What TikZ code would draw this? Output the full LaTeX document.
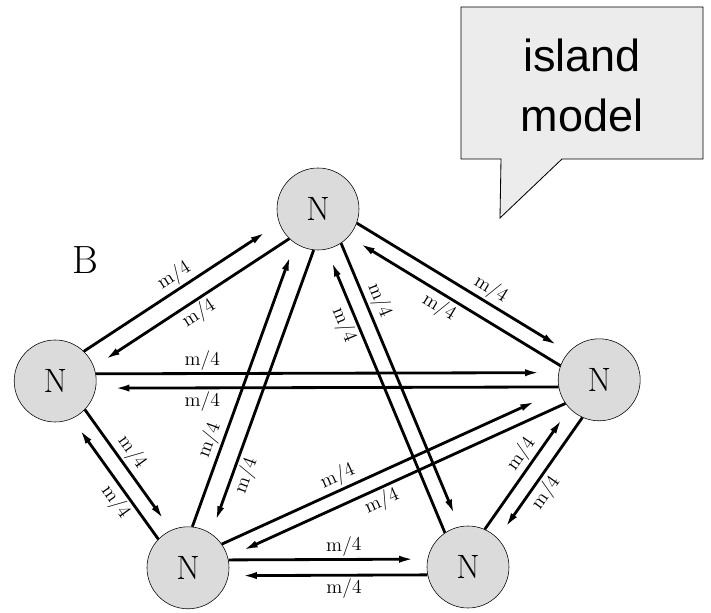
\documentclass[tikz,border=0pt]{standalone}
\usepackage{fontspec}
\newfontfamily\bubblefont{Liberation Sans}
\usetikzlibrary{arrows.meta}
\begin{document}
\begin{tikzpicture}[
    island/.style={circle, draw, thin, fill=gray!28, minimum size=2.05cm, inner sep=0pt, font=\fontsize{24}{24}\selectfont},
    link/.style={line width=2pt, -{Latex[length=11pt,width=5pt]}, shorten >=0.32cm},
    rate/.style={font=\fontsize{14}{14}\selectfont, inner sep=1.5pt, sloped}
  ]
  \useasboundingbox (0,0) rectangle (17.775,15.325);
  \draw[fill=gray!15, line width=0.6pt] (11.525,15.15) -- (17.575,15.15) -- (17.575,11.35) -- (14.05,11.35)
    -- (12.5,9.875) -- (12.525,11.35) -- (11.525,11.35) -- cycle;
  \node[align=center, font=\bubblefont\fontsize{32}{42.7}\selectfont, inner sep=0pt] (bubble) at (14.55,13.19) {island\\model};
  \node[font=\fontsize{28}{28}\selectfont] (B) at (2.125,8.825) {B};
  \node[island] (T) at (7.95,10.1) {N};
  \node[island] (L) at (1.38,5.8) {N};
  \node[island] (R) at (14.98,5.83) {N};
  \node[island] (BL) at (4.7,1.13) {N};
  \node[island] (BR) at (11.7,1.15) {N};
  \draw[link, shorten >=0.4cm] (L.46) -- node[rate, above, pos=0.5] (lt1) {m/4} (T.200);
  \draw[link] (T.226) -- node[rate, below, pos=0.5] (lt2) {m/4} (L.20);
  \draw[link, shorten >=0.45cm] (L.10) -- node[rate, above, pos=0.23] (lr1) {m/4} (R.170);
  \draw[link, shorten >=0.45cm] (R.190) -- node[rate, below, pos=0.77] (lr2) {m/4} (L.-10);
  \draw[link] (T.-20) -- node[rate, above, pos=0.6] (tr1) {m/4} (R.138);
  \draw[link] (R.160) -- node[rate, below, pos=0.54] (tr2) {m/4} (T.-42);
  \draw[link] (L.-44) -- node[rate, above, pos=0.42] (lb1) {m/4} (BL.114);
  \draw[link] (BL.136) -- node[rate, below, pos=0.37] (lb2) {m/4} (L.-66);
  \draw[link] (BL.84) -- node[rate, above, pos=0.29] (bt1) {m/4} (T.236);
  \draw[link] (T.264) -- node[rate, below, pos=0.78] (bt2) {m/4} (BL.56);
  \draw[link] (T.-56) -- node[rate, above, pos=0.22] (tb1) {m/4} (BR.102);
  \draw[link] (BR.124) -- node[rate, below, pos=0.75] (tb2) {m/4} (T.-78);
  \draw[link, shorten >=0.65cm] (BL.35) -- node[rate, above, pos=0.36] (br1) {m/4} (R.195);
  \draw[link, shorten >=0.4cm] (R.215) -- node[rate, below, pos=0.56] (br2) {m/4} (BL.15);
  \draw[link] (BR.66) -- node[rate, above, pos=0.56] (rr1) {m/4} (R.224);
  \draw[link] (R.246) -- node[rate, below, pos=0.56] (rr2) {m/4} (BR.44);
  \draw[link] (BL.11) -- node[rate, above, pos=0.58] (bb1) {m/4} (BR.169);
  \draw[link] (BR.191) -- node[rate, below, pos=0.42] (bb2) {m/4} (BL.-11);
\end{tikzpicture}
\end{document}
